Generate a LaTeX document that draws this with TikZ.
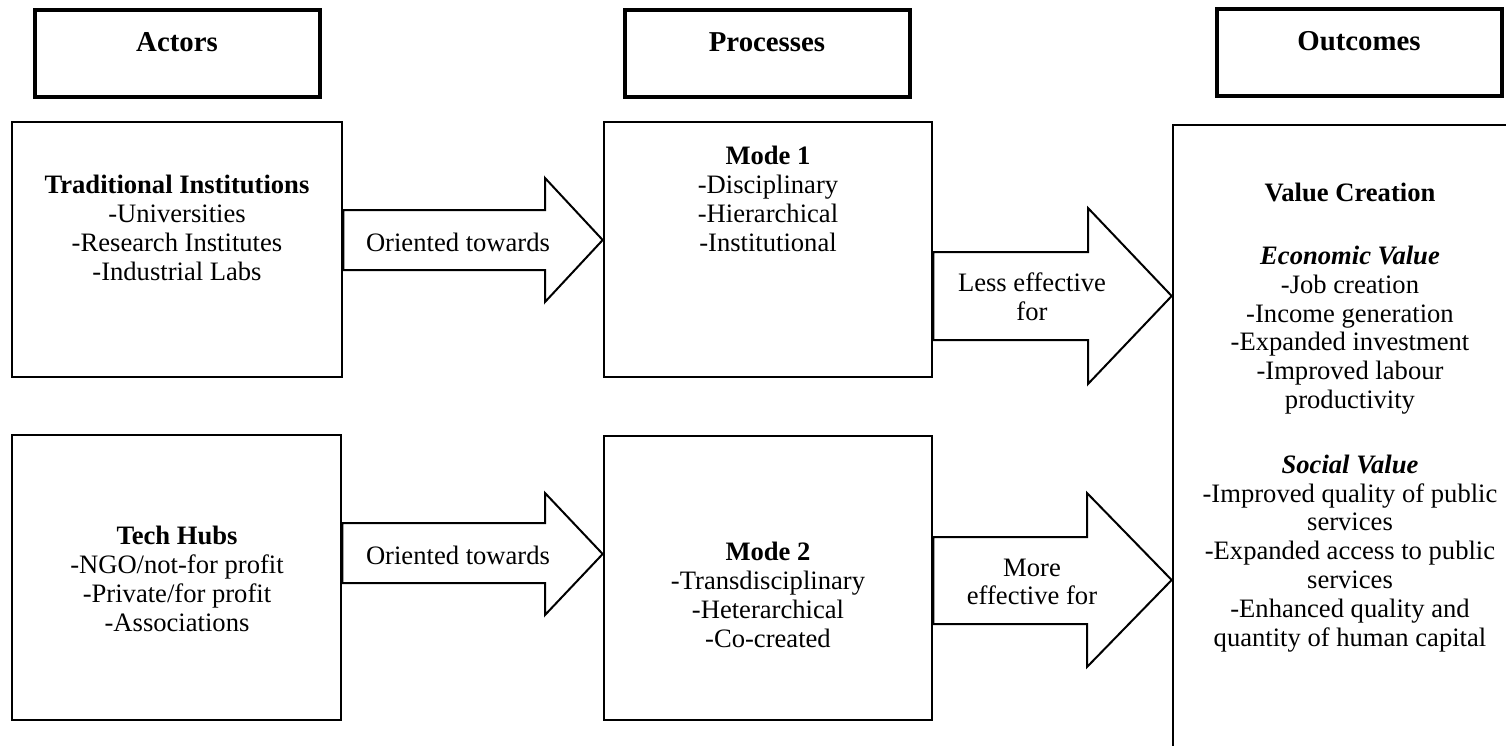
\documentclass[tikz,border=0pt]{standalone}
\usepackage{fontspec}
\setmainfont{Liberation Serif}
\begin{document}
\begin{tikzpicture}[x=0.5pt,y=-0.5pt,
  box/.style={draw,line width=1.3pt,inner sep=0pt},
  hdr/.style={draw,line width=2pt,inner sep=0pt,minimum width=142.5pt,minimum height=43.5pt},
  txt/.style={align=center,font=\fontsize{13.3}{14.4}\selectfont,inner sep=0pt},
  htxt/.style={font=\fontsize{14.4}{16}\selectfont\bfseries,inner sep=0pt},
  bigarrow/.style={draw,line width=1pt,fill=white,line join=miter}]
\useasboundingbox (0,0) rectangle (1506,745);
\clip (0,0) rectangle (1506,745);
% headers
\node[hdr] (hact) at (177.5,53.5) {};
\node[htxt] (hactt) at (177,42) {Actors};
\node[hdr] (hproc) at (767.5,53.5) {};
\node[htxt] (hproct) at (767,42) {Processes};
\node[hdr] (hout) at (1359,52.5) {};
\node[htxt] (houtt) at (1359,41) {Outcomes};
% boxes
\node[box,minimum width=165pt,minimum height=127.5pt] (trad) at (177,249.5) {};
\node[box,minimum width=164.5pt,minimum height=142.5pt] (tech) at (176.5,577.5) {};
\node[box,minimum width=164pt,minimum height=127.5pt] (mode1) at (768,249.5) {};
\node[box,minimum width=164pt,minimum height=142pt] (mode2) at (768,578) {};
\node[box,minimum width=178.5pt,minimum height=322.5pt] (outc) at (1351.5,447.5) {};
% texts
\node[txt] (tradt) at (177,228) {\textbf{Traditional Institutions}\\-Universities\\-Research Institutes\\-Industrial Labs};
\node[txt] (techt) at (177,579) {\textbf{Tech Hubs}\\-NGO/not-for profit\\-Private/for profit\\-Associations};
\node[txt] (mode1t) at (768,199) {\textbf{Mode 1}\\-Disciplinary\\-Hierarchical\\-Institutional};
\node[txt] (mode2t) at (768,595) {\textbf{Mode 2}\\-Transdisciplinary\\-Heterarchical\\-Co-created};
\node[txt] (outt) at (1350,417.5) {\textbf{Value Creation}\\[17pt]\textbf{\textit{Economic Value}}\\-Job creation\\-Income generation\\-Expanded investment\\-Improved labour\\productivity\\[18pt]\textbf{\textit{Social Value}}\\-Improved quality of public\\services\\-Expanded access to public\\services\\-Enhanced quality and\\quantity of human capital};
% arrows
\draw[bigarrow] (trad.east |- 0,210) -- (545,210) -- (545,178) -- (mode1.west |- 0,240) -- (545,302) -- (545,270) -- (trad.east |- 0,270) -- cycle;
\draw[bigarrow] (mode1.east |- 0,252) -- (1088,252) -- (1088,208) -- (outc.west |- 0,296) -- (1088,384) -- (1088,340) -- (mode1.east |- 0,340) -- cycle;
\draw[bigarrow] (tech.east |- 0,523) -- (545,523) -- (545,493) -- (mode2.west |- 0,554) -- (545,615) -- (545,583) -- (tech.east |- 0,583) -- cycle;
\draw[bigarrow] (mode2.east |- 0,537) -- (1087,537) -- (1087,493) -- (outc.west |- 0,580) -- (1087,667) -- (1087,624) -- (mode2.east |- 0,624) -- cycle;
\node[txt] (a1t) at (458,242) {Oriented towards};
\node[txt] (a3t) at (458,555) {Oriented towards};
\node[txt] (a2t) at (1032,297) {Less effective\\for};
\node[txt] (a4t) at (1032,582) {More\\effective for};
\end{tikzpicture}
\end{document}
